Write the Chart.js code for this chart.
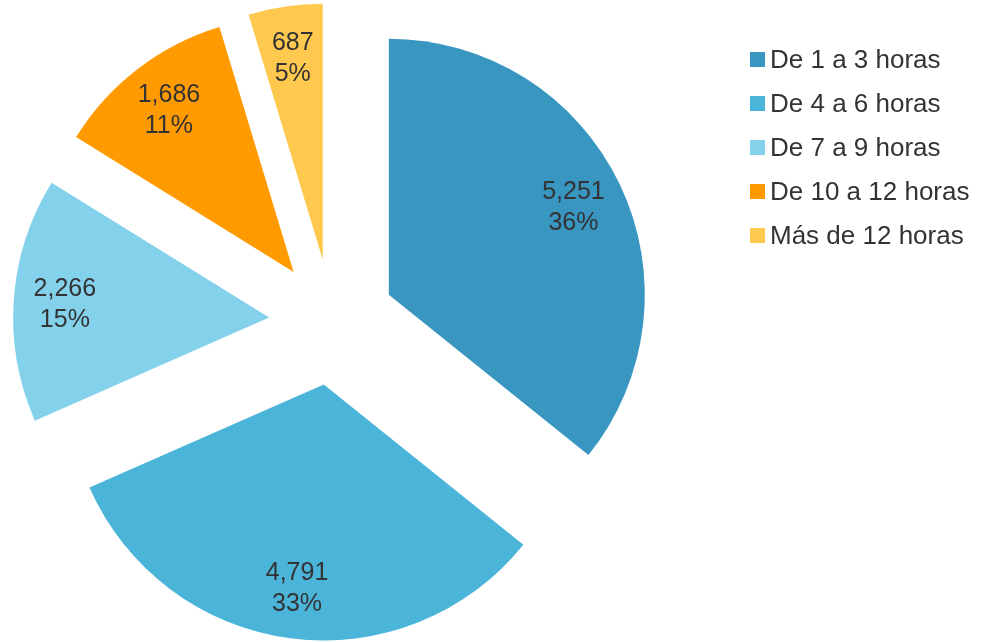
<!DOCTYPE html>
<html lang="es">
<head>
<meta charset="utf-8">
<title>Horas</title>
<script src="https://cdn.jsdelivr.net/npm/chart.js@4.4.1/dist/chart.umd.min.js"></script>
<style>
  html, body { margin: 0; padding: 0; background: #fff; }
  #wrap { width: 986px; height: 642px; }
</style>
</head>
<body>
<div id="wrap"><canvas id="pieChart" width="986" height="642"></canvas></div>
<script>
  // datos
  const categorias = ['De 1 a 3 horas', 'De 4 a 6 horas', 'De 7 a 9 horas', 'De 10 a 12 horas', 'Más de 12 horas'];
  const valores = [5251, 4791, 2266, 1686, 687];
  const colores = ['#3896c1', '#4bb4d9', '#84d1ec', '#ff9b00', '#ffc94f'];

  const EXPLODE = 63;
  const total = valores.reduce((a, b) => a + b, 0);

  // separa las porciones del centro
  const explodePlugin = {
    id: 'explode',
    afterDatasetUpdate(chart, args) {
      args.meta.data.forEach(arc => {
        const mid = (arc.startAngle + arc.endAngle) / 2;
        arc.x += Math.cos(mid) * EXPLODE;
        arc.y += Math.sin(mid) * EXPLODE;
      });
    }
  };

  // etiquetas: valor + porcentaje
  const labelPlugin = {
    id: 'sliceLabels',
    afterDatasetsDraw(chart) {
      const { ctx } = chart;
      const meta = chart.getDatasetMeta(0);
      ctx.save();
      ctx.font = '25px "Liberation Sans", Arial, sans-serif';
      ctx.fillStyle = '#333333';
      ctx.textAlign = 'center';
      ctx.textBaseline = 'middle';
      meta.data.forEach((arc, i) => {
        const mid = (arc.startAngle + arc.endAngle) / 2;
        const r = arc.outerRadius * 0.8;
        const x = arc.x + Math.cos(mid) * r;
        const y = arc.y + Math.sin(mid) * r;
        const v = valores[i];
        ctx.fillText(v.toLocaleString('en-US'), x, y - 14);
        ctx.fillText(Math.round(v / total * 100) + '%', x, y + 17);
      });
      ctx.restore();
    }
  };

  // leyenda a la derecha
  const legendPlugin = {
    id: 'sideLegend',
    afterDraw(chart) {
      const { ctx } = chart;
      ctx.save();
      ctx.font = '26px "Liberation Sans", Arial, sans-serif';
      ctx.textBaseline = 'middle';
      ctx.textAlign = 'left';
      categorias.forEach((c, i) => {
        const y = 59.5 + i * 44;
        ctx.fillStyle = colores[i];
        ctx.fillRect(750, y - 7.5, 15, 15);
        ctx.fillStyle = '#333333';
        ctx.fillText(c, 770, y + 1);
      });
      ctx.restore();
    }
  };

  new Chart(document.getElementById('pieChart'), {
    type: 'pie',
    data: {
      labels: categorias,
      datasets: [{
        data: valores,
        backgroundColor: colores,
        borderWidth: 0
      }]
    },
    options: {
      responsive: false,
      animation: false,
      events: [],
      radius: 256,
      layout: { padding: { left: 0, right: 322, top: 2, bottom: 0 } },
      plugins: {
        legend: { display: false },
        tooltip: { enabled: false }
      }
    },
    plugins: [explodePlugin, labelPlugin, legendPlugin]
  });
</script>
</body>
</html>
